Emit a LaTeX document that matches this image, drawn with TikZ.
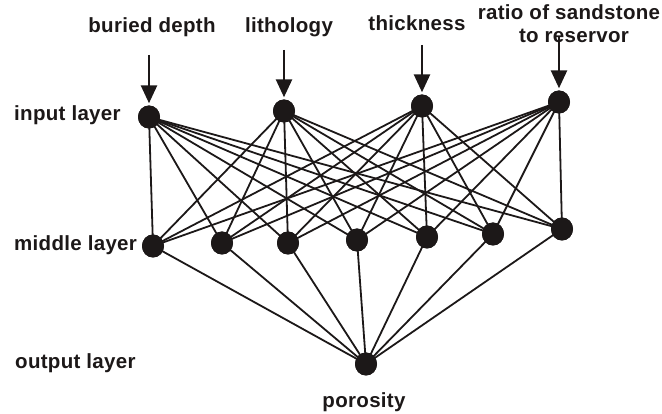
\documentclass[tikz,border=0pt]{standalone}
\usepackage{fontspec}
\setmainfont{Liberation Sans}[LetterSpace=1.5]
\usetikzlibrary{arrows.meta,shapes.geometric}
\definecolor{ink}{RGB}{28,24,24}
\begin{document}
\begin{tikzpicture}[x=1pt,y=-1pt,
  neuron/.style={ellipse,fill=ink,draw=none,minimum width=22pt,minimum height=23pt,inner sep=0pt},
  lbl/.style={font=\fontsize{20.5}{24}\selectfont\bfseries,text=ink,inner sep=0pt,anchor=base},
  sidelbl/.style={lbl,anchor=base west},
  conn/.style={draw=ink,line width=1.8pt},
  inarrow/.style={draw=ink,line width=2.6pt,-{Triangle[length=18pt,width=16pt]},shorten >=2pt}]
\useasboundingbox (0,0) rectangle (662,414);
% input layer
\node[neuron] (i1) at (149,117) {};
\node[neuron] (i2) at (284,111) {};
\node[neuron] (i3) at (422,106) {};
\node[neuron] (i4) at (559,102) {};
% middle layer
\node[neuron] (m1) at (153,246) {};
\node[neuron] (m2) at (222,243) {};
\node[neuron] (m3) at (288,243) {};
\node[neuron] (m4) at (357,240) {};
\node[neuron] (m5) at (427,237) {};
\node[neuron] (m6) at (493,234) {};
\node[neuron] (m7) at (562,229) {};
% output
\node[neuron] (o) at (366,364) {};
% connections
\foreach \i in {1,...,4}{
  \foreach \m in {1,...,7}{
    \draw[conn] (i\i.center) -- (m\m.center);
  }
}
\foreach \m in {1,...,7}{
  \draw[conn] (m\m.center) -- (o.center);
}
% redraw neurons on top
\foreach \n in {i1,i2,i3,i4,m1,m2,m3,m4,m5,m6,m7,o}{
  \fill[ink] (\n.center) ellipse (11pt and 11.5pt);
}
% input arrows
\coordinate (a1) at (149,55);
\coordinate (a2) at (284,50);
\coordinate (a3) at (422,45);
\coordinate (a4) at (559,36);
\draw[inarrow] (a1) -- (i1);
\draw[inarrow] (a2) -- (i2);
\draw[inarrow] (a3) -- (i3);
\draw[inarrow] (a4) -- (i4);
% labels
\node[lbl] (t1) at (152,33) {buried depth};
\node[lbl] (t2) at (289,33) {lithology};
\node[lbl] (t3) at (417,31) {thickness};
\node[lbl] (t4) at (569,20) {ratio of sandstone};
\node[lbl] (t5) at (574,43) {to reservor};
\node[sidelbl] (l1) at (14,121) {input layer};
\node[sidelbl] (l2) at (14,251) {middle layer};
\node[sidelbl] (l3) at (15,369) {output layer};
\node[lbl] (t6) at (364,407) {porosity};
\end{tikzpicture}
\end{document}
